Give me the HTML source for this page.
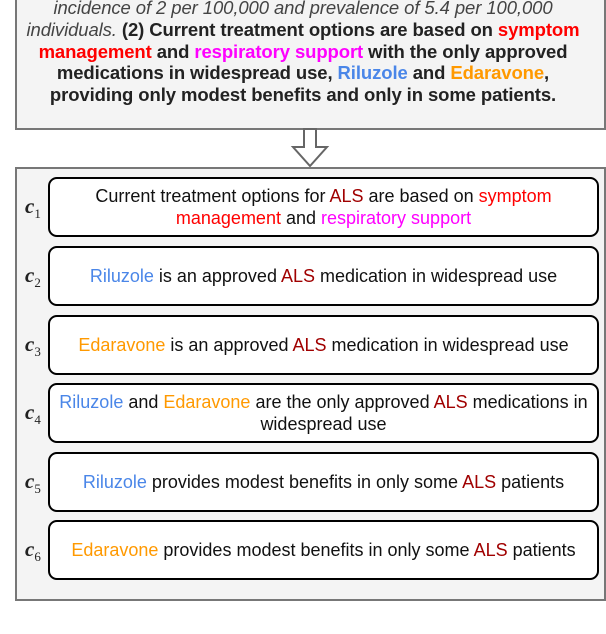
<!DOCTYPE html>
<html><head><style>
body{margin:0;width:606px;height:634px;background:#fff;position:relative;overflow:hidden;font-family:"Liberation Sans",sans-serif;}
.top{position:absolute;left:15px;top:-20px;width:587px;height:146px;border:2px solid #777;background:#f4f4f4;}
.tt{position:absolute;left:0px;width:606px;top:-3px;text-align:center;font-size:18.5px;line-height:21.8px;color:#222;font-weight:bold;letter-spacing:-0.1px;}
.tt i{font-weight:normal;color:#444;}
.bot{position:absolute;left:15px;top:167px;width:587px;height:430px;border:2px solid #777;background:#f4f4f4;}
.c{position:absolute;left:48px;width:547px;height:56px;border:2px solid #000;border-radius:9px;background:#fff;display:flex;align-items:center;justify-content:center;text-align:center;font-size:18px;line-height:22px;color:#111;}
.l{position:absolute;left:25px;font-family:"Liberation Serif",serif;font-style:italic;font-weight:bold;font-size:21px;color:#222;}
.l sub{font-style:normal;font-weight:normal;font-size:13px;}
.r{color:#f00}.m{color:#f0f}.b{color:#4a86e8}.o{color:#ff9900}.a{color:#a00000}
</style></head><body>
<div class="top"></div>
<div class="tt"><i>incidence of 2 per 100,000 and prevalence of 5.4 per 100,000</i><br><i>individuals.</i> (2) Current treatment options are based on <span class="r">symptom</span><br><span class="r">management</span> and <span class="m">respiratory support</span> with the only approved<br>medications in widespread use, <span class="b">Riluzole</span> and <span class="o">Edaravone</span>,<br>providing only modest benefits and only in some patients.</div>
<svg style="position:absolute;left:0;top:0" width="606" height="170"><polygon points="304,129 316,129 316,147 327,147 310,166 293,147 304,147" fill="#fff" stroke="#666" stroke-width="2"/></svg>
<div class="bot"></div>
<div class="l" style="top:194px">c<sub>1</sub></div>
<div class="c" style="top:177px"><span>Current treatment options for <span class="a">ALS</span> are based on <span class="r">symptom</span><br><span class="r">management</span> and <span class="m">respiratory support</span></span></div>
<div class="l" style="top:263px">c<sub>2</sub></div>
<div class="c" style="top:246px"><span><span class="b">Riluzole</span> is an approved <span class="a">ALS</span> medication in widespread use</span></div>
<div class="l" style="top:332px">c<sub>3</sub></div>
<div class="c" style="top:315px"><span><span class="o">Edaravone</span> is an approved <span class="a">ALS</span> medication in widespread use</span></div>
<div class="l" style="top:400px">c<sub>4</sub></div>
<div class="c" style="top:383px"><span><span class="b">Riluzole</span> and <span class="o">Edaravone</span> are the only approved <span class="a">ALS</span> medications in<br>widespread use</span></div>
<div class="l" style="top:469px">c<sub>5</sub></div>
<div class="c" style="top:452px"><span><span class="b">Riluzole</span> provides modest benefits in only some <span class="a">ALS</span> patients</span></div>
<div class="l" style="top:537px">c<sub>6</sub></div>
<div class="c" style="top:520px"><span><span class="o">Edaravone</span> provides modest benefits in only some <span class="a">ALS</span> patients</span></div>
</body></html>
